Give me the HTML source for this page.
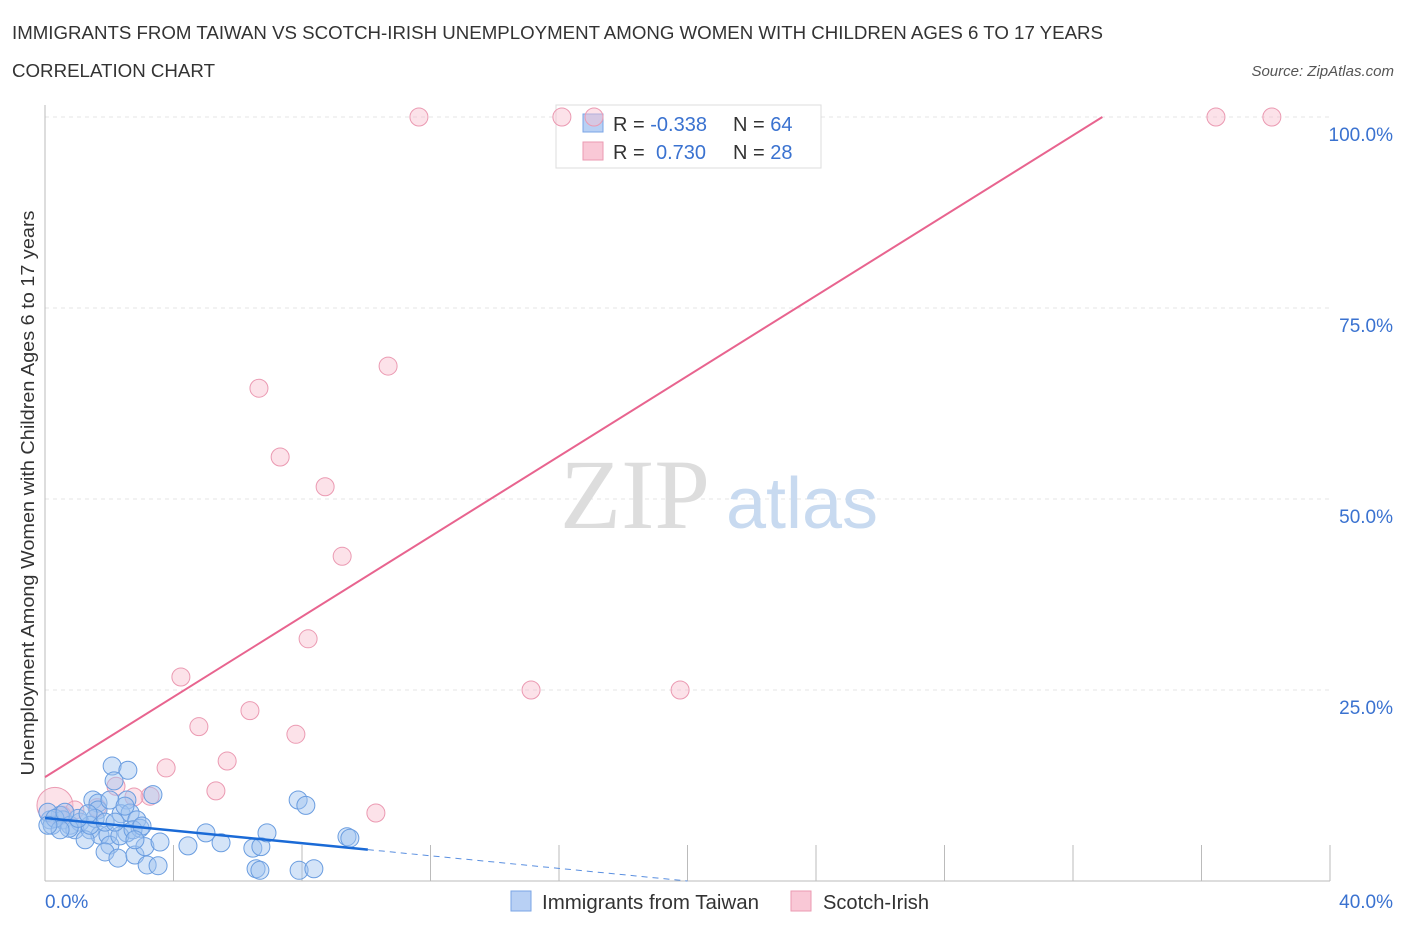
<!DOCTYPE html>
<html><head><meta charset="utf-8"><style>
body{margin:0;background:#fff;font-family:"Liberation Sans",sans-serif;}
</style></head><body>
<svg width="1406" height="930" xmlns="http://www.w3.org/2000/svg">
<text x="12" y="39" font-size="18" fill="#333" textLength="1091" lengthAdjust="spacingAndGlyphs">IMMIGRANTS FROM TAIWAN VS SCOTCH-IRISH UNEMPLOYMENT AMONG WOMEN WITH CHILDREN AGES 6 TO 17 YEARS</text>
<text x="12" y="77" font-size="18" fill="#333" textLength="203" lengthAdjust="spacingAndGlyphs">CORRELATION CHART</text>
<text x="1394" y="76" font-size="15" font-style="italic" fill="#555" text-anchor="end">Source: ZipAtlas.com</text>
<g id="grid"></g>
<g id="axes"></g>
<text x="635" y="528" font-size="100" font-family="Liberation Serif,serif" fill="#ddd" text-anchor="middle">ZIP</text>
<text x="802" y="528" font-size="72" fill="#c8daf0" text-anchor="middle">atlas</text>
<g>
<rect x="556" y="105" width="265" height="63" fill="#fff" stroke="#ddd"/>
<rect x="583" y="114" width="20" height="18" fill="#b8d0f4" stroke="#7aa5e6"/>
<rect x="583" y="142" width="20" height="18" fill="#f9c8d6" stroke="#eb9ab2"/>
<text x="613" y="131" font-size="20" fill="#333">R = <tspan fill="#3a72d0">-0.338</tspan></text>
<text x="733" y="131" font-size="20" fill="#333">N = <tspan fill="#3a72d0">64</tspan></text>
<text x="613" y="159" font-size="20" fill="#333">R = <tspan fill="#3a72d0" x="656">0.730</tspan></text>
<text x="733" y="159" font-size="20" fill="#333">N = <tspan fill="#3a72d0">28</tspan></text>
</g>
<g id="pts"></g>
<g id="lines"></g>
<text x="34" y="493" font-size="18" fill="#333" text-anchor="middle" textLength="565" lengthAdjust="spacingAndGlyphs" transform="rotate(-90 34 493)">Unemployment Among Women with Children Ages 6 to 17 years</text>
<text x="45" y="908" font-size="19" fill="#3a72d0">0.0%</text>
<text x="1393" y="908" font-size="19" fill="#3a72d0" text-anchor="end">40.0%</text>
<g>
<rect x="511" y="891" width="20" height="20" fill="#b8d0f4" stroke="#7aa5e6"/>
<text x="542" y="909" font-size="20" fill="#333" textLength="217" lengthAdjust="spacingAndGlyphs">Immigrants from Taiwan</text>
<rect x="791" y="891" width="20" height="20" fill="#f9c8d6" stroke="#eb9ab2"/>
<text x="823" y="909" font-size="20" fill="#333" textLength="106" lengthAdjust="spacingAndGlyphs">Scotch-Irish</text>
</g>
</svg>
<script>
const yTicks=[25,50,75,100];
const yTickLabels=["25.0%","50.0%","75.0%","100.0%"];
const xTicks=[0,4,8,12,16,20,24,28,32,36,40];
const blueX=[2.09,2.58,2.15,1.49,1.65,2.55,3.36,2.37,2.65,1.65,2.86,0.47,0.16,0.22,0.56,0.78,1.09,0.93,1.40,1.71,1.25,1.96,2.02,2.55,2.96,1.87,2.27,2.80,3.11,3.58,3.18,3.52,4.45,5.01,5.48,6.47,6.72,6.91,6.57,6.69,7.88,8.12,7.91,8.37,9.40,9.49,2.33,1.56,0.75,1.40,1.87,0.09,0.31,1.03,1.34,0.62,2.18,2.74,3.02,2.02,2.49,0.47,2.80,0.09];
const blueY=[15.05,14.5,13.1,10.6,10.2,10.6,11.3,8.8,8.9,9.3,8.0,8.6,8.0,7.3,8.0,7.3,7.7,6.7,6.7,6.0,5.4,6.0,4.7,6.3,6.9,3.8,3.0,3.4,4.5,5.1,2.1,2.0,4.6,6.3,5.0,4.3,4.5,6.3,1.6,1.4,10.6,9.9,1.4,1.6,5.8,5.6,5.9,8.2,6.9,7.3,7.7,9.0,8.2,8.2,8.8,9.0,7.7,6.7,7.2,10.6,9.8,6.7,5.4,7.3];
const pinkX=[11.64,16.09,17.09,36.45,38.19,10.68,6.66,7.32,8.72,9.25,8.19,4.23,15.13,19.77,4.79,6.38,7.81,5.67,3.77,5.32,10.30,3.27,2.77,2.21,1.62,0.31,0.93,0.53];
const pinkY=[100,100,100,100,100,67.4,64.5,55.5,51.6,42.5,31.7,26.7,25.0,25.0,20.2,22.3,19.2,15.7,14.8,11.8,8.9,11.1,11.0,12.4,9.6,9.9,9.3,8.6];
const pinkBig=[0,0,0,0,0,0,0,0,0,0,0,0,0,0,0,0,0,0,0,0,0,0,0,0,0,1,0,0];
const blueTrend=[8.25,-0.4125], pinkTrend=[13.6,2.625];
const NS='http://www.w3.org/2000/svg';
const X0=45,X1=1330,Y0=881,Y1=117;
const sx=v=>X0+(v/40)*(X1-X0), sy=v=>Y0-(v/100)*(Y0-Y1);
function mk(t,a,p){const e=document.createElementNS(NS,t);for(const k in a)e.setAttribute(k,a[k]);p.appendChild(e);return e;}
const grid=document.getElementById('grid'),axes=document.getElementById('axes');
yTicks.forEach((t,i)=>{
 const l=mk('line',{x1:X0,x2:X1,y1:sy(t),y2:sy(t),stroke:'#e4e4e4','stroke-dasharray':'4 4'},grid);
 
 
 const tx=mk('text',{x:1393,y:sy(t)+24,'font-size':19,fill:'#3a72d0','text-anchor':'end'},axes);
 tx.textContent=yTickLabels[i];
 
 
});
mk('line',{x1:X0,x2:X0,y1:105,y2:Y0,stroke:'#bbb'},axes);
mk('line',{x1:X0,x2:X1,y1:Y0,y2:Y0,stroke:'#bbb'},axes);
xTicks.forEach(t=>{
 const l=mk('line',{x1:sx(t),x2:sx(t),y1:Y0,y2:Y0-36,stroke:'#bbb'},axes);
 
 
});
const pts=document.getElementById('pts');
pinkX.forEach((v,i)=>{
 const c=mk('circle',{cx:sx(v),cy:sy(pinkY[i]),r:pinkBig[i]?18:9,fill:'rgba(248,190,206,0.45)',stroke:'#eb9ab2','stroke-width':1},pts);
 
 
});
blueX.forEach((v,i)=>{
 const c=mk('circle',{cx:sx(v),cy:sy(blueY[i]),r:9,fill:'rgba(160,196,240,0.45)',stroke:'#6a9de0','stroke-width':1},pts);
 
 
});
const lines=document.getElementById('lines');
const xEndP=(100-pinkTrend[0])/pinkTrend[1];
const pl=mk('line',{x1:sx(0),y1:sy(pinkTrend[0]),x2:sx(xEndP),y2:sy(100),stroke:'#e8648f','stroke-width':2},lines);


const xs=10.05,xz=-blueTrend[0]/blueTrend[1];
const bl=mk('line',{x1:sx(0),y1:sy(blueTrend[0]),x2:sx(xs),y2:sy(blueTrend[0]+blueTrend[1]*xs),stroke:'#1a6ad6','stroke-width':2.5},lines);


const bd=mk('line',{x1:sx(xs),y1:sy(blueTrend[0]+blueTrend[1]*xs),x2:sx(xz),y2:sy(0),stroke:'#5a8fe0','stroke-width':1,'stroke-dasharray':'6 5'},lines);


</script>
</body></html>
